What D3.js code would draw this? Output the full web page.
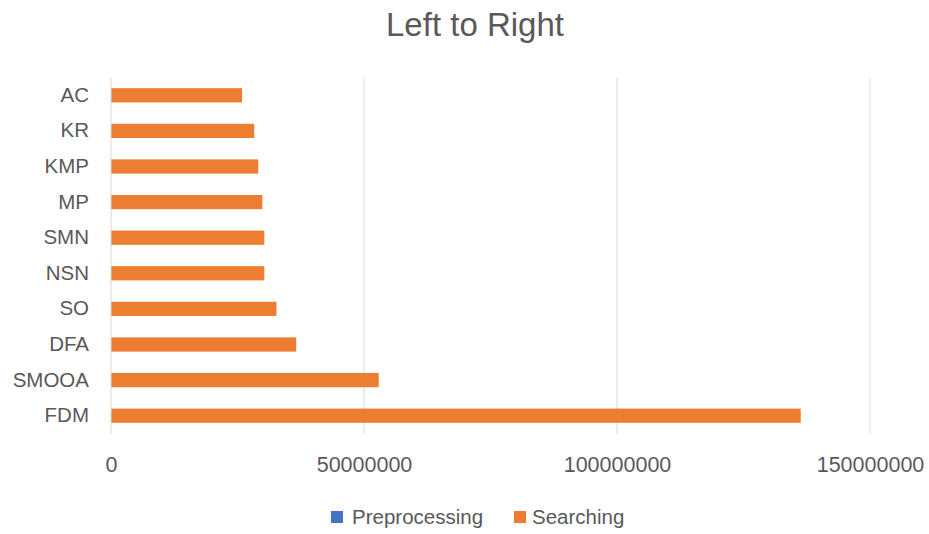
<!DOCTYPE html>
<html>
<head>
<meta charset="utf-8">
<script src="https://cdn.jsdelivr.net/npm/d3@7"></script>
<style>
  html, body { margin: 0; padding: 0; background: #fff; }
  svg { display: block; font-family: "Liberation Sans", Arial, sans-serif; }
</style>
</head>
<body>
<svg id="chart" width="929" height="534"></svg>
<script>
// Algorithms, listed top to bottom
const categories = ["AC", "KR", "KMP", "MP", "SMN", "NSN", "SO", "DFA", "SMOOA", "FDM"];
// Time spent per phase (stacked)
const preprocessing = [2000, 3000, 5000, 4000, 6000, 6000, 3000, 8000, 9000, 10000];
const searching = [25900000, 28300000, 29100000, 29900000, 30300000, 30300000, 32700000, 36600000, 52900000, 136300000];
const seriesNames = ["Preprocessing", "Searching"];
const seriesColors = ["#4472C4", "#ED7D31"];
const xTicks = [0, 50000000, 100000000, 150000000];
const chartTitle = "Left to Right";

const svg = d3.select("#chart");
const margin = { left: 111, right: 929 - 870, top: 77.5, bottom: 534 - 433.5 };
const W = 929, H = 534;

const rows = categories.map((c, i) => ({ cat: c, Preprocessing: preprocessing[i], Searching: searching[i] }));
const stack = d3.stack().keys(seriesNames)(rows);

const x = d3.scaleLinear().domain([0, 150000000]).range([margin.left, W - margin.right]);
const y = d3.scaleBand().domain(categories).range([margin.top, H - margin.bottom]).paddingInner(0.6).paddingOuter(0.3);

// Title
svg.append("text")
  .attr("x", 475).attr("y", 36)
  .attr("text-anchor", "middle")
  .attr("font-size", 33)
  .attr("fill", "#595959")
  .text(chartTitle);

// Vertical gridlines
svg.append("g")
  .selectAll("line")
  .data(xTicks.slice(1))
  .join("line")
  .attr("x1", d => x(d)).attr("x2", d => x(d))
  .attr("y1", margin.top).attr("y2", H - margin.bottom)
  .attr("stroke", "#D9D9D9").attr("stroke-width", 1);

// X axis labels
const xAxis = d3.axisBottom(x).tickValues(xTicks).tickFormat(d3.format("d")).tickSize(0).tickPadding(0);
const gx = svg.append("g").attr("transform", `translate(0,${H - margin.bottom})`).call(xAxis);
gx.select(".domain").remove();
gx.selectAll("text")
  .attr("font-family", "Liberation Sans, Arial, sans-serif")
  .attr("font-size", 21.5)
  .attr("fill", "#595959")
  .attr("dy", null)
  .attr("y", 38);

// Bars
svg.append("g")
  .selectAll("g")
  .data(stack)
  .join("g")
  .attr("fill", (d, i) => seriesColors[i])
  .selectAll("rect")
  .data(d => d)
  .join("rect")
  .attr("x", d => x(d[0]))
  .attr("width", d => x(d[1]) - x(d[0]))
  .attr("y", d => y(d.data.cat))
  .attr("height", y.bandwidth());

// Category axis
const yAxis = d3.axisLeft(y).tickSize(0).tickPadding(22);
const gy = svg.append("g").attr("transform", `translate(${margin.left},0)`).call(yAxis);
gy.select(".domain")
  .attr("stroke", "#D9D9D9")
  .attr("d", `M0,${margin.top}V${H - margin.bottom}`);
gy.selectAll("text")
  .attr("font-family", "Liberation Sans, Arial, sans-serif")
  .attr("font-size", 20.5)
  .attr("fill", "#595959");

// Legend
const legendItems = [
  { name: seriesNames[0], color: seriesColors[0], sx: 331, tx: 352 },
  { name: seriesNames[1], color: seriesColors[1], sx: 514, tx: 532 }
];
const lg = svg.append("g");
legendItems.forEach(it => {
  lg.append("rect").attr("x", it.sx).attr("y", 511).attr("width", 12).attr("height", 12).attr("fill", it.color);
  lg.append("text").attr("x", it.tx).attr("y", 524)
    .attr("font-size", 20.5).attr("fill", "#595959").text(it.name);
});
</script>
</body>
</html>
